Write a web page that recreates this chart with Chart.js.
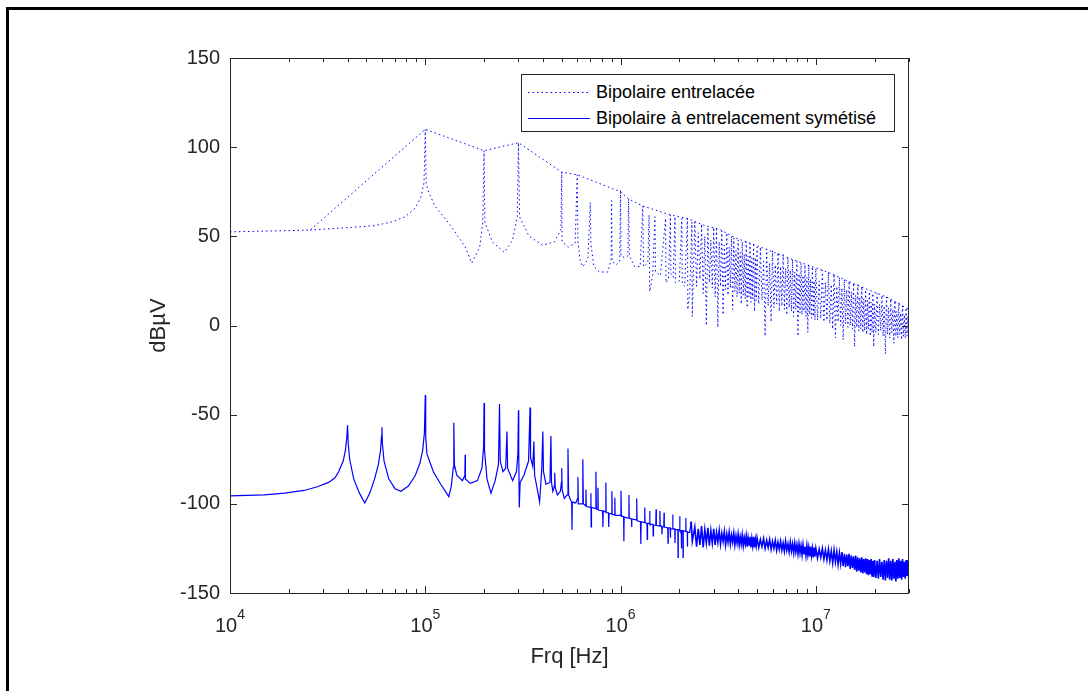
<!DOCTYPE html>
<html>
<head>
<meta charset="utf-8">
<script src="https://cdn.jsdelivr.net/npm/chart.js@4/dist/chart.umd.min.js"></script>
<style>
  html, body { margin: 0; padding: 0; background: #fff; }
  #wrap { position: relative; width: 1088px; height: 691px; overflow: hidden; background: #fff; }
  #frame { position: absolute; left: 6px; top: 7px; width: 1200px; height: 800px; border-left: 3px solid #000; border-top: 3px solid #000; }
  #c { position: absolute; left: 0; top: 0; }
  #legend { position: absolute; left: 521px; top: 74px; width: 372px; height: 56px; border: 1px solid #262626; background: #fff;
            font: 18px "Liberation Sans", Arial, sans-serif; color: #000; }
  .row { position: absolute; left: 0; width: 100%; height: 22px; line-height: 22px; white-space: nowrap; }
  .row svg { position: absolute; left: 6px; top: 10px; }
  .row span { position: absolute; left: 74px; top: 0; }
</style>
</head>
<body>
<div id="wrap">
  <div id="frame"></div>
  <canvas id="c" width="1088" height="691"></canvas>
  <div id="legend">
    <div class="row" style="top:6px">
      <svg width="62" height="3"><line x1="0" y1="1.5" x2="62" y2="1.5" stroke="#0000ff" stroke-width="1" stroke-dasharray="1.5 3"/></svg>
      <span>Bipolaire entrelacée</span>
    </div>
    <div class="row" style="top:32px">
      <svg width="62" height="3"><line x1="0" y1="1.5" x2="62" y2="1.5" stroke="#0000ff" stroke-width="1.2"/></svg>
      <span>Bipolaire à entrelacement symétisé</span>
    </div>
  </div>
</div>
<script>
// axis ticks
const xDecades = [1e4, 1e5, 1e6, 1e7]
const xExponents = ['4', '5', '6', '7']
const yTicks = [-150, -100, -50, 0, 50, 100, 150]

// "Bipolaire entrelacée" : straight line joining the harmonic peaks
const envFreq = [1e4, 2.57e4, 1e5, 2e5, 3e5, 5e5, 6e5, 1e6, 1.1e6, 1.3e6, 1.8e6, 2.2e6, 2.7e6, 3.2e6, 3.9e6, 5.2e6, 7.6e6, 1.14e7, 1.68e7, 2.3e7, 3e7]
const envDb = [52.5, 53.5, 110, 98, 102.5, 86, 84.5, 75, 71, 67, 62, 60, 56, 54, 49, 44, 37, 30, 22, 16, 9]

// "Bipolaire entrelacée" : spectrum, low / mid band
const s1Freq = [2.57e4, 4.2e4, 5.5e4, 6.7e4, 7.9e4, 8.9e4, 9.5e4, 9.85e4, 1e5, 1.01e5,
  1.03e5, 1.12e5, 1.35e5, 1.6e5, 1.73e5, 1.9e5, 1.97e5, 2e5, 2.02e5, 2.2e5,
  2.54e5, 2.8e5, 2.96e5, 3e5, 3.04e5, 3.4e5, 4e5, 4.6e5, 4.95e5, 5e5,
  5.02e5, 5.4e5, 5.85e5, 6e5, 6.05e5, 6.2e5, 6.4e5, 6.8e5, 7e5, 7.05e5,
  7.3e5, 7.8e5, 8.6e5, 8.95e5, 9e5, 9.05e5, 9.5e5, 9.9e5, 1e6, 1.005e6,
  1.05e6, 1.09e6, 1.1e6, 1.11e6, 1.18e6, 1.26e6, 1.3e6, 1.31e6, 1.38e6, 1.4e6,
  1.41e6, 1.46e6, 1.5e6, 1.51e6, 1.6e6, 1.7e6, 1.71e6, 1.76e6, 1.8e6, 1.81e6,
  1.86e6, 1.9e6, 1.91e6, 2e6, 2.06e6, 2.07e6, 2.13e6, 2.2e6, 2.21e6, 2.26e6,
  2.32e6, 2.33e6]
const s1Db = [53.5, 55, 56, 58, 61, 66, 72, 80, 110, 80,
  76, 67, 56, 44, 35, 44, 58, 98, 58, 47,
  41, 48, 61, 102.5, 61, 50, 45, 47, 54, 86,
  47, 44, 46, 84.5, 47, 37, 33, 37, 69, 46,
  33, 30, 30, 37, 70, 36, 34, 36, 76, 39,
  38, 39, 71, 39, 33, 33, 67, 33, 35, 62,
  19, 28, 61, 30, 28, 60, 24, 26, 62, 29,
  27, 61, 24, 25, 60, 24, 22, 60, 9, 18,
  58, 5]

// "Bipolaire à entrelacement symétisé" : low / mid band
const s2Freq = [1e4, 1.5e4, 1.9e4, 2.4e4, 2.8e4, 3.2e4, 3.45e4, 3.6e4, 3.8e4, 3.9e4,
  3.97e4, 4e4, 4.03e4, 4.1e4, 4.3e4, 4.6e4, 4.9e4, 5.2e4, 5.5e4, 5.75e4,
  5.9e4, 5.97e4, 6e4, 6.03e4, 6.15e4, 6.5e4, 7e4, 7.5e4, 8.2e4, 8.9e4,
  9.4e4, 9.7e4, 9.9e4, 1e5, 1.005e5, 1.02e5, 1.1e5, 1.2e5, 1.32e5, 1.36e5,
  1.39e5, 1.4e5, 1.41e5, 1.45e5, 1.55e5, 1.595e5, 1.6e5, 1.605e5, 1.7e5, 1.85e5,
  1.95e5, 1.99e5, 2e5, 2.01e5, 2.07e5, 2.17e5, 2.28e5, 2.37e5, 2.4e5, 2.42e5,
  2.5e5, 2.58e5, 2.62e5, 2.64e5, 2.8e5, 2.93e5, 2.98e5, 3e5, 3.01e5, 3.03e5,
  3.06e5, 3.2e5, 3.38e5, 3.44e5, 3.46e5, 3.55e5, 3.6e5, 3.63e5, 3.75e5, 3.85e5,
  3.95e5, 4e5, 4.03e5, 4.15e5, 4.35e5, 4.4e5, 4.43e5, 4.5e5, 4.58e5, 4.6e5,
  4.63e5, 4.75e5, 4.92e5, 4.98e5, 5e5, 5.02e5, 5.15e5, 5.33e5, 5.38e5, 5.42e5,
  5.55e5, 5.62e5, 5.64e5, 5.66e5, 5.9e5, 6.02e5, 6.05e5, 6.08e5, 6.35e5, 6.4e5,
  6.42e5, 6.45e5, 6.62e5, 6.65e5, 6.68e5, 7.02e5, 7.05e5, 7.07e5, 7.1e5, 7.42e5,
  7.48e5, 7.52e5, 7.63e5, 7.66e5, 7.69e5, 8.09e5, 8.12e5, 8.15e5, 8.38e5, 8.41e5,
  8.44e5, 8.67e5, 8.7e5, 8.73e5, 9e5, 9.03e5, 9.06e5, 9.32e5, 9.35e5, 9.38e5,
  1e6, 1.005e6, 1.01e6, 1.037e6, 1.04e6, 1.043e6, 1.1e6, 1.104e6, 1.108e6, 1.137e6,
  1.14e6, 1.143e6, 1.205e6, 1.21e6, 1.215e6, 1.265e6, 1.27e6, 1.275e6, 1.325e6, 1.33e6,
  1.335e6, 1.365e6, 1.37e6, 1.375e6, 1.405e6, 1.41e6, 1.415e6, 1.465e6, 1.47e6, 1.475e6,
  1.515e6, 1.52e6, 1.525e6, 1.585e6, 1.59e6, 1.595e6, 1.625e6, 1.63e6, 1.635e6, 1.665e6,
  1.67e6, 1.675e6, 1.745e6, 1.75e6, 1.755e6, 1.795e6, 1.8e6, 1.805e6, 1.845e6, 1.85e6,
  1.855e6, 1.895e6, 1.9e6, 1.905e6, 1.965e6, 1.97e6, 1.975e6, 2.005e6, 2.01e6, 2.015e6,
  2.045e6, 2.05e6, 2.055e6, 2.085e6, 2.09e6, 2.095e6, 2.155e6, 2.16e6, 2.165e6, 2.195e6,
  2.2e6, 2.205e6, 2.26e6, 2.3e6, 2.33e6]
const s2Db = [-95.5, -95, -94, -92.5, -90.4, -88, -85.4, -82, -76, -70,
  -62, -56, -66, -75, -86, -94, -99.5, -94, -86, -78,
  -70, -62, -57, -66, -76, -86, -91.5, -93, -90, -84,
  -77, -70, -60, -39, -62, -72, -82, -89, -96, -90,
  -80, -54.5, -78, -84, -87, -84, -72.5, -86, -88.5, -87,
  -80, -68, -43.5, -70, -86, -94, -87, -78, -44, -76,
  -82, -80, -59.5, -80, -87, -82, -72, -47.5, -70, -102,
  -88, -84, -76, -46, -74, -79, -65, -84, -92, -99,
  -80, -59.5, -82, -89, -88, -62, -88, -93, -90, -82.6,
  -91, -95, -93, -88, -80, -92, -97, -95, -69, -95,
  -98, -99, -114.6, -99, -99.5, -97, -85, -100, -100, -92,
  -75, -100, -101, -92, -101.5, -102, -94, -113, -102, -102.5,
  -82, -103, -103, -91, -103.5, -104, -113, -104, -104.5, -88,
  -105, -105, -113, -105.5, -105.5, -93, -106, -106, -96.6, -106.5,
  -106.5, -92.7, -107, -107, -121, -107.5, -108, -95, -108, -108.5,
  -113, -108.5, -109, -97, -109.5, -110, -122.5, -110, -110.5, -102,
  -110.5, -111, -120, -111, -111, -104, -111.5, -111.5, -118, -112,
  -112, -103, -112, -112.5, -104, -112.5, -112.5, -117, -113, -113,
  -105, -113, -113.5, -122, -113.5, -113.5, -119, -114, -114, -106,
  -114, -114, -122, -114.5, -114.5, -130, -114.5, -114.5, -107, -115,
  -115, -125, -115, -115, -130, -115, -115.5, -108, -115.5, -115.5,
  -124, -116, -116, -110, -121]

// dense high-frequency band (both series, alternating upper / lower edge)
const bandFreq = [2.40e6, 2.45e6, 2.50e6, 2.55e6, 2.60e6, 2.65e6, 2.70e6, 2.75e6, 2.80e6, 2.85e6,
  2.90e6, 2.95e6, 3.00e6, 3.05e6, 3.10e6, 3.15e6, 3.20e6, 3.25e6, 3.30e6, 3.35e6,
  3.40e6, 3.45e6, 3.50e6, 3.55e6, 3.60e6, 3.65e6, 3.70e6, 3.75e6, 3.80e6, 3.85e6,
  3.90e6, 3.95e6, 4.00e6, 4.05e6, 4.10e6, 4.15e6, 4.20e6, 4.25e6, 4.30e6, 4.35e6,
  4.40e6, 4.45e6, 4.50e6, 4.55e6, 4.60e6, 4.65e6, 4.70e6, 4.75e6, 4.80e6, 4.85e6,
  4.90e6, 4.95e6, 5.00e6, 5.1e6, 5.2e6, 5.3e6, 5.4e6, 5.5e6, 5.6e6, 5.7e6,
  5.8e6, 5.9e6, 6.0e6, 6.1e6, 6.2e6, 6.3e6, 6.4e6, 6.5e6, 6.6e6, 6.7e6,
  6.8e6, 6.9e6, 7.0e6, 7.1e6, 7.2e6, 7.3e6, 7.4e6, 7.5e6, 7.6e6, 7.7e6,
  7.8e6, 7.9e6, 8.0e6, 8.1e6, 8.2e6, 8.3e6, 8.4e6, 8.5e6, 8.6e6, 8.7e6,
  8.8e6, 8.9e6, 9.0e6, 9.1e6, 9.2e6, 9.3e6, 9.4e6, 9.5e6, 9.6e6, 9.7e6,
  9.8e6, 9.9e6, 1.00e7, 1.02e7, 1.04e7, 1.06e7, 1.08e7, 1.10e7, 1.12e7, 1.14e7,
  1.16e7, 1.18e7, 1.20e7, 1.22e7, 1.24e7, 1.26e7, 1.28e7, 1.30e7, 1.32e7, 1.34e7,
  1.36e7, 1.38e7, 1.40e7, 1.42e7, 1.44e7, 1.46e7, 1.48e7, 1.50e7, 1.52e7, 1.54e7,
  1.56e7, 1.58e7, 1.60e7, 1.62e7, 1.64e7, 1.66e7, 1.68e7, 1.70e7, 1.72e7, 1.74e7,
  1.76e7, 1.78e7, 1.80e7, 1.82e7, 1.84e7, 1.86e7, 1.88e7, 1.90e7, 1.92e7, 1.94e7,
  1.96e7, 1.98e7, 2.00e7, 2.03e7, 2.06e7, 2.09e7, 2.12e7, 2.15e7, 2.18e7, 2.21e7,
  2.24e7, 2.27e7, 2.30e7, 2.33e7, 2.36e7, 2.39e7, 2.42e7, 2.45e7, 2.48e7, 2.51e7,
  2.54e7, 2.57e7, 2.60e7, 2.63e7, 2.66e7, 2.69e7, 2.72e7, 2.75e7, 2.78e7, 2.81e7,
  2.84e7, 2.87e7, 2.90e7, 2.93e7, 2.96e7, 2.99e7, 3.00e7]
const s1BandDb = [58, 22, 52, 26, 57, 18, 50, 0, 55, 24,
  48, 21, 55, 16, 54, -1, 47, 22, 53, 6,
  45, 20, 52, 17, 44, 21, 50, 9, 49, 19,
  42, 16, 48, 18, 41, 12, 47, 17, 40, 15,
  47, 10, 39, 16, 46, 13, 38, 15, 45, 8,
  38, 14, 44, 12, 44, 14, 36, -6, 43, 11,
  35, 2, 42, 10, 34, 12, 41, 8, 33, 11,
  40, 9, 32, 6, 38, 10, 31, 8, 37, 5,
  30, 9, 36, -6, 29, 7, 35, 6, 28, 8,
  34, 5, 27, -4, 34, 6, 26, 4, 33, 5,
  25, 3, 32, 3, 25, 4, 31, 2, 24, 3,
  30, 1, 23, -2, 29, -7, 22, 2, 27, 0,
  21, -8, 26, 1, 20, -1, 25, 0, 19, -2,
  24, -12, 17, -1, 23, -3, 16, -2, 22, -4,
  15, -3, 20, -5, 14, -2, 19, -6, 13, -4,
  18, -12, 12, -4, 18, -5, 12, -3, 17, -6,
  11, -16, 16, -5, 10, -7, 15, -4, 9, -10,
  14, -6, 8, -7, 13, -5, 7, -8, 11, -6,
  6, -7, 10, -6, 5, -8, 9]
const s2BandDb = [-113, -124, -114, -123, -112.5, -124.5, -114.5, -122, -113.5, -123.5,
  -115, -122, -114, -123, -116, -121.5, -115, -122.5, -116.5, -121,
  -115.5, -123, -117, -121.5, -116, -122.5, -117.5, -121.5, -116.5, -123,
  -118, -122, -117, -123, -118.5, -122.5, -117.5, -123.5, -119, -122.5,
  -118, -124, -119, -123, -118.5, -124.5, -119.5, -123.5, -118.5, -124.5,
  -120, -123.5, -119, -124.5, -120, -124, -119.5, -125, -120.5, -124.5,
  -120, -125.5, -121, -125, -120.5, -126, -121.5, -125.5, -121, -126,
  -122, -126.5, -121, -126, -122.5, -127, -121.5, -126.5, -122.5, -127.5,
  -122, -127, -123, -128, -122.5, -127.5, -123.5, -128.5, -123, -128,
  -124, -129, -123.5, -128.5, -124.5, -129.5, -124, -129, -125, -130,
  -124.5, -129.5, -125, -130.5, -125.5, -130, -125, -131, -126, -131.5,
  -125.5, -132, -126.5, -133, -126, -132.5, -127, -134, -127.5, -133.5,
  -127, -135, -128, -135.5, -128.5, -135, -128, -136.5, -129, -136,
  -129.5, -137, -129, -138, -130, -137.5, -130.5, -138.5, -130, -139,
  -131, -138.5, -130.5, -139.5, -131, -140, -131.5, -139.5, -131, -140.5,
  -132, -141, -131.5, -141.5, -132, -142, -131, -141, -132.5, -142.5,
  -131.5, -143, -132, -141.5, -130.5, -142.5, -132, -143, -131, -142,
  -132.5, -143.5, -131.5, -142, -130.5, -141.5, -132, -142.5, -131, -141,
  -132.5, -142, -131.5, -140.5, -132, -141.5, -133]

const FONT = '"Liberation Sans", Arial, sans-serif'
const AXIS = '#262626'
const BLUE = '#0000ff'

let toPoints = (xs, ys) => xs.map((f, i) => ({ x: f, y: ys[i] }))

// MATLAB like box, inside ticks and 10^n labels
const matlabAxes = {
  id: 'matlabAxes',
  afterDraw(chart) {
    const { ctx, chartArea: a, scales: { x, y } } = chart
    ctx.save()
    ctx.strokeStyle = AXIS
    ctx.lineWidth = 1
    ctx.strokeRect(a.left + 0.5, a.top + 0.5, a.right - a.left - 1, a.bottom - a.top)

    let vTick = (v, len) => {
      const px = Math.round(x.getPixelForValue(v)) + 0.5
      ctx.beginPath()
      ctx.moveTo(px, a.bottom); ctx.lineTo(px, a.bottom - len)
      ctx.moveTo(px, a.top); ctx.lineTo(px, a.top + len)
      ctx.stroke()
    }
    xDecades.forEach(d => {
      vTick(d, 7)
      for (let m = 2; m <= 9; m++) if (d * m <= 3e7) vTick(d * m, 4)
    })
    yTicks.forEach(v => {
      const py = Math.round(y.getPixelForValue(v)) + 0.5
      ctx.beginPath()
      ctx.moveTo(a.left, py); ctx.lineTo(a.left + 7, py)
      ctx.moveTo(a.right, py); ctx.lineTo(a.right - 7, py)
      ctx.stroke()
    })

    ctx.fillStyle = AXIS
    ctx.textAlign = 'left'
    ctx.textBaseline = 'alphabetic'
    xDecades.forEach((d, i) => {
      const px = x.getPixelForValue(d)
      ctx.font = '20px ' + FONT
      const w1 = ctx.measureText('10').width
      ctx.font = '14px ' + FONT
      const w2 = ctx.measureText(xExponents[i]).width
      const left = px - (w1 + w2) / 2
      ctx.font = '20px ' + FONT
      ctx.fillText('10', left, 632)
      ctx.font = '14px ' + FONT
      ctx.fillText(xExponents[i], left + w1, 619)
    })
    ctx.restore()
  }
}

new Chart(document.getElementById('c'), {
  type: 'line',
  data: {
    datasets: [{
      label: 'Bipolaire entrelacée',
      data: toPoints(s1Freq.concat(bandFreq), s1Db.concat(s1BandDb)),
      borderColor: BLUE, borderWidth: 1, borderDash: [1.5, 3], pointRadius: 0, tension: 0
    }, {
      label: 'Bipolaire entrelacée (enveloppe)',
      data: toPoints(envFreq, envDb),
      borderColor: BLUE, borderWidth: 1, borderDash: [1.5, 3], pointRadius: 0, tension: 0
    }, {
      label: 'Bipolaire à entrelacement symétisé',
      data: toPoints(s2Freq.concat(bandFreq), s2Db.concat(s2BandDb)),
      borderColor: BLUE, borderWidth: 1.2, pointRadius: 0, tension: 0,
      // the measured band is very dense, draw it a bit heavier
      segment: { borderWidth: c => c.p0.parsed.x >= 2.3e6 ? 1.6 : undefined }
    }]
  },
  options: {
    responsive: false,
    animation: false,
    devicePixelRatio: 1,
    layout: { padding: { top: 58, right: 179, left: 0, bottom: 0 } },
    plugins: { legend: { display: false }, tooltip: { enabled: false } },
    scales: {
      x: {
        type: 'logarithmic', min: 1e4, max: 3e7,
        grid: { display: false, drawTicks: false },
        border: { display: false },
        ticks: { display: false },
        title: { display: true, text: 'Frq [Hz]', color: AXIS, font: { family: FONT, size: 22 }, padding: { top: 0, bottom: 21 } },
        afterFit: s => { s.height = 98 }
      },
      y: {
        min: -150, max: 150,
        grid: { display: false, drawTicks: false },
        border: { display: false },
        ticks: { stepSize: 50, padding: 10, color: AXIS, font: { family: FONT, size: 20 }, callback: v => String(v) },
        title: { display: true, text: 'dBµV', color: AXIS, font: { family: FONT, size: 22 }, padding: { top: 146, bottom: 0 } },
        afterFit: s => { s.width = 230 }
      }
    }
  },
  plugins: [matlabAxes]
})
</script>
</body>
</html>
